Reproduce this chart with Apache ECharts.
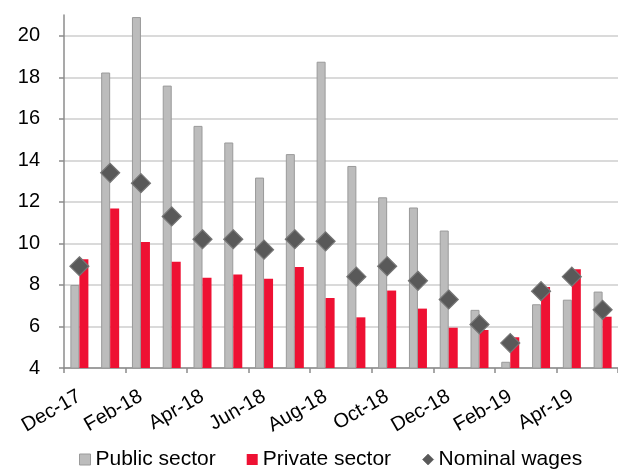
<!DOCTYPE html>
<html>
<head>
<meta charset="utf-8">
<script src="https://cdn.jsdelivr.net/npm/echarts@6/dist/echarts.min.js"></script>
<style>
html,body{margin:0;padding:0;background:#fff;}
#chart{width:618px;height:471px;}
</style>
</head>
<body>
<div id="chart"></div>
<script>
var categories = ['Dec-17','Jan-18','Feb-18','Mar-18','Apr-18','May-18','Jun-18','Jul-18','Aug-18','Sep-18','Oct-18','Nov-18','Dec-18','Jan-19','Feb-19','Mar-19','Apr-19','May-19'];
var publicSector = [8.0, 18.23, 20.9, 17.6, 15.66, 14.86, 13.17, 14.3, 18.75, 13.73, 12.22, 11.73, 10.62, 6.8, 4.3, 7.07, 7.29, 7.68];
var privateSector = [9.24, 11.68, 10.07, 9.12, 8.35, 8.5, 8.3, 8.87, 7.37, 6.44, 7.73, 6.86, 5.94, 5.83, 5.48, 7.9, 8.75, 6.47];
var nominalWages = [8.9, 13.4, 12.9, 11.3, 10.2, 10.2, 9.7, 10.2, 10.1, 8.4, 8.9, 8.2, 7.3, 6.1, 5.2, 7.7, 8.4, 6.8];
var yTicks = [4, 6, 8, 10, 12, 14, 16, 18, 20];

var chart = echarts.init(document.getElementById('chart'), null, {renderer: 'canvas'});
var font = 'Liberation Sans, Arial, sans-serif';
chart.setOption({
  animation: false,
  textStyle: {fontFamily: font},
  grid: {left: 64, right: 0, top: 15, bottom: 103, containLabel: false},
  legend: {
    top: 449, left: 79, padding: 0,
    itemWidth: 11, itemHeight: 11, itemGap: 31,
    textStyle: {fontSize: 21, color: '#000', fontFamily: font},
    data: [
      {name: 'Public sector', icon: 'rect', itemStyle: {color: '#bcbcbc', borderColor: '#9a9a9a', borderWidth: 1}},
      {name: 'Private sector', icon: 'rect', itemStyle: {color: '#ee1133', borderWidth: 0}},
      {name: 'Nominal wages', icon: 'diamond', itemStyle: {color: '#595959', borderColor: '#7a7a7a', borderWidth: 1}}
    ]
  },
  xAxis: {
    type: 'category',
    data: categories,
    boundaryGap: true,
    axisLine: {lineStyle: {color: '#8c8c8c', width: 1.5}},
    axisTick: {show: true, interval: 1, length: 5, alignWithLabel: false, lineStyle: {color: '#8c8c8c', width: 1.5}},
    axisLabel: {interval: 1, rotate: 30, fontSize: 20, color: '#000', margin: 27, fontFamily: font},
    splitLine: {show: false}
  },
  yAxis: {
    type: 'value',
    min: 4, max: 21, interval: 2,
    axisLine: {show: true, lineStyle: {color: '#8c8c8c', width: 1.5}},
    axisTick: {show: true, length: 5, customValues: yTicks, lineStyle: {color: '#8c8c8c', width: 1.5}},
    axisLabel: {fontSize: 20, color: '#000', margin: 24, customValues: yTicks, fontFamily: font},
    splitLine: {show: true, lineStyle: {color: '#dadada', width: 2}}
  },
  series: [
    {
      name: 'Public sector', type: 'bar', data: publicSector,
      barWidth: 9, barGap: '0%',
      itemStyle: {color: '#bcbcbc', borderColor: '#9a9a9a', borderWidth: 1}
    },
    {
      name: 'Private sector', type: 'bar', data: privateSector,
      barWidth: 9, barGap: '0%',
      itemStyle: {color: '#ee1133'}
    },
    {
      name: 'Nominal wages', type: 'scatter', data: nominalWages,
      symbol: 'diamond', symbolSize: 19, z: 5,
      itemStyle: {color: '#595959', borderColor: '#767676', borderWidth: 1.2, opacity: 1}
    }
  ]
});
</script>
</body>
</html>
